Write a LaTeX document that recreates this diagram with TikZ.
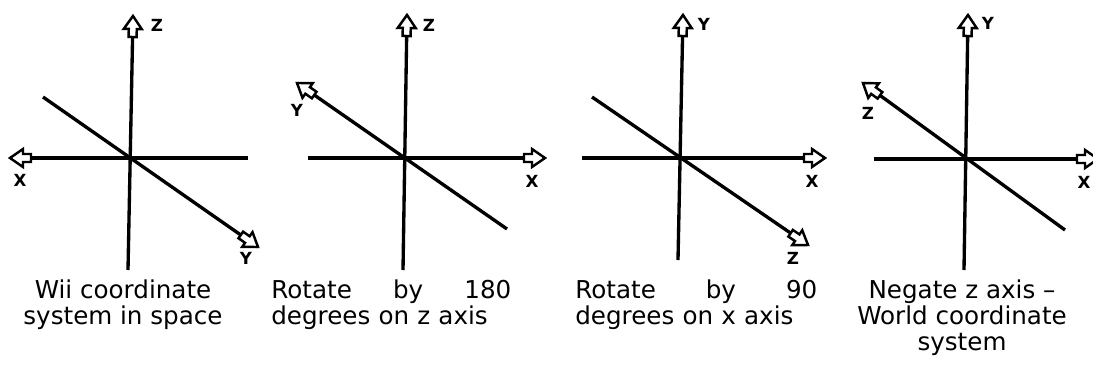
\documentclass[tikz,border=0pt]{standalone}
\usepackage{fontspec}
\setmainfont{DejaVu Sans}
\usepackage{tikz}
\usetikzlibrary{positioning, calc}

\tikzset{
  hollowarrow/.pic={
    \draw[line width=1.4pt, fill=white, line join=miter]
      (0,0) -- (-13,9) -- (-13,4) -- (-21,4) -- (-21,-4) -- (-13,-4) -- (-13,-9) -- cycle;
  },
  axisline/.style={line width=1.9pt},
  axislabel/.style={font=\bfseries\fontsize{9.5}{11}\selectfont, inner sep=0pt},
  caption/.style={font=\fontsize{14}{14.8}\selectfont, inner sep=0pt, anchor=north}
}

\begin{document}
\begin{tikzpicture}[x=0.02cm, y=-0.02cm]
  \useasboundingbox (0,0) rectangle (1093,365);

  % Wii coordinate system in space
  \coordinate (zt1) at (133,16);
  \coordinate (zb1) at (128,270);
  \coordinate (xt1) at (10,158);
  \coordinate (xb1) at (248,158);
  \coordinate (yb1) at (43,97);
  \coordinate (yt1) at (258,247);
  \draw[axisline] (zb1) -- (zt1);
  \draw[axisline] (xb1) -- (xt1);
  \draw[axisline] (yb1) -- (yt1);
  \pic[rotate=89] at (zt1) {hollowarrow};
  \pic[rotate=180] at (xt1) {hollowarrow};
  \pic[rotate=-35] at (yt1) {hollowarrow};
  \node[axislabel] (lz1) at (157,25) {Z};
  \node[axislabel] (lx1) at (20,180) {X};
  \node[axislabel] (ly1) at (246,258) {Y};

  % rotate by 180 on z
  \coordinate (zt2) at (407,15);
  \coordinate (zb2) at (403,270);
  \coordinate (xb2) at (308,158);
  \coordinate (xt2) at (545,158);
  \coordinate (yb2) at (507,229);
  \coordinate (yt2) at (297,83);
  \draw[axisline] (zb2) -- (zt2);
  \draw[axisline] (xb2) -- (xt2);
  \draw[axisline] (yb2) -- (yt2);
  \pic[rotate=89] at (zt2) {hollowarrow};
  \pic[rotate=0] at (xt2) {hollowarrow};
  \pic[rotate=145] at (yt2) {hollowarrow};
  \node[axislabel] (lz2) at (429,25) {Z};
  \node[axislabel] (lx2) at (532,181) {X};
  \node[axislabel] (ly2) at (297,110) {Y};

  % rotate by 90 on x
  \coordinate (yt3) at (683,15);
  \coordinate (yb3) at (678,260);
  \coordinate (xb3) at (582,158);
  \coordinate (xt3) at (825,158);
  \coordinate (zb3) at (592,97);
  \coordinate (zt3) at (808,245);
  \draw[axisline] (yb3) -- (yt3);
  \draw[axisline] (xb3) -- (xt3);
  \draw[axisline] (zb3) -- (zt3);
  \pic[rotate=89] at (yt3) {hollowarrow};
  \pic[rotate=0] at (xt3) {hollowarrow};
  \pic[rotate=-34] at (zt3) {hollowarrow};
  \node[axislabel] (ly3) at (704,24) {Y};
  \node[axislabel] (lx3) at (812,181) {X};
  \node[axislabel] (lz3) at (793,258) {Z};

  % negate z -> world
  \coordinate (yt4) at (968,15);
  \coordinate (yb4) at (964,270);
  \coordinate (xb4) at (874,159);
  \coordinate (xt4) at (1098,159);
  \coordinate (zb4) at (1065,230);
  \coordinate (zt4) at (863,83);
  \draw[axisline] (yb4) -- (yt4);
  \draw[axisline] (xb4) -- (xt4);
  \draw[axisline] (zb4) -- (zt4);
  \pic[rotate=89] at (yt4) {hollowarrow};
  \pic[rotate=0] at (xt4) {hollowarrow};
  \pic[rotate=144] at (zt4) {hollowarrow};
  \node[axislabel] (ly4) at (988,23) {Y};
  \node[axislabel] (lx4) at (1084,182) {X};
  \node[axislabel] (lz4) at (868,113) {Z};

  % captions
  \node[caption, align=center] (cap1) at (123,279) {Wii coordinate\\system in space};
  \node[caption, anchor=north west, text width=4.8cm, align=left] (cap2) at (271,279)
    {Rotate \hfill by \hfill 180\\degrees on z axis};
  \node[caption, anchor=north west, text width=4.84cm, align=left] (cap3) at (575,279)
    {Rotate \hfill by \hfill 90\\degrees on x axis};
  \node[caption, align=center] (cap4) at (962,279) {Negate z axis –\\World coordinate\\system};
\end{tikzpicture}
\end{document}
